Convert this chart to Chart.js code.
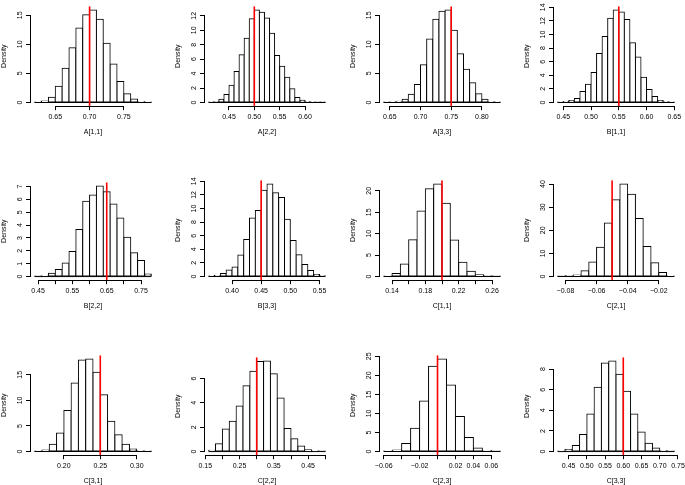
<!DOCTYPE html>
<html>
<head>
<meta charset="utf-8">
<script src="https://cdn.jsdelivr.net/npm/chart.js@4"></script>
<style>
  html, body { margin: 0; padding: 0; background: #fff; }
  #grid { position: relative; width: 685px; height: 485px; overflow: hidden; }
  #grid canvas { position: absolute; }
</style>
</head>
<body>
<div id="grid"></div>
<script>
// posterior histograms (density) with the true value as a red line
const panelNames = ['A[1,1]', 'A[2,2]', 'A[3,3]', 'B[1,1]', 'B[2,2]', 'B[3,3]',
                    'C[1,1]', 'C[2,1]', 'C[3,1]', 'C[2,2]', 'C[2,3]', 'C[3,3]'];
const trueValues = [0.70, 0.50, 0.75, 0.55, 0.65, 0.45, 0.20, -0.05, 0.25, 0.30, 0.00, 0.60];
const binStarts  = [0.62, 0.41, 0.64, 0.44, 0.44, 0.36, 0.13, -0.085, 0.16, 0.16, -0.06, 0.42];
const binWidths  = [0.01, 0.01, 0.01, 0.01, 0.02, 0.01, 0.01, 0.005, 0.01, 0.02, 0.01, 0.02];

// densities per bin
const densA11 = [0.05, 0.25, 0.9, 2.8, 5.9, 9.4, 12.8, 15.1, 15.9, 14.3, 10.2, 6.6, 3.6, 1.5, 0.6, 0.15, 0.05];
const densA22 = [0.05, 0.1, 0.45, 1.1, 2.4, 4.3, 6.6, 8.9, 11.6, 12.8, 12.5, 11.7, 9.6, 6.5, 5.0, 3.5, 1.9, 0.7, 0.3, 0.15, 0.05, 0.03, 0.02];
const densA33 = [0.05, 0.1, 0.2, 0.55, 1.4, 3.1, 6.5, 10.9, 14.3, 15.7, 15.9, 12.4, 8.4, 5.7, 3.4, 1.5, 0.55, 0.15, 0.05];
const densB11 = [0.05, 0.15, 0.3, 0.6, 1.6, 2.7, 4.4, 7.2, 9.7, 12.4, 13.6, 13.3, 12.2, 8.8, 6.7, 3.7, 1.9, 0.9, 0.3, 0.1, 0.05];
const densB22 = [0.02, 0.05, 0.25, 0.55, 1.05, 1.95, 3.65, 5.85, 6.35, 7.05, 6.6, 5.65, 4.55, 3.05, 1.85, 1.25, 0.2];
const densB33 = [0.05, 0.15, 0.45, 0.95, 1.4, 3.15, 5.45, 8.6, 9.7, 12.7, 13.6, 12.3, 11.6, 8.4, 5.3, 3.2, 1.75, 0.9, 0.3, 0.1];
const densC11 = [0.1, 0.7, 2.9, 8.6, 15.3, 20.5, 21.6, 17.1, 8.5, 3.3, 1.2, 0.4, 0.15, 0.05];
const densC21 = [0.1, 0.3, 0.6, 2.5, 6.3, 12.6, 23.1, 33.2, 40.0, 35.6, 25.1, 13.0, 5.9, 1.7, 0.2];
const densC31 = [0.05, 0.3, 1.4, 3.6, 8.0, 13.4, 17.9, 18.1, 15.5, 11.1, 5.9, 3.3, 1.4, 0.5, 0.15, 0.05];
const densC22 = [0.1, 0.65, 1.85, 2.5, 3.75, 5.4, 6.6, 7.4, 7.45, 6.4, 4.4, 1.9, 1.05, 0.45, 0.15, 0.05, 0.02];
const densC23 = [0.1, 0.4, 2.1, 6.1, 13.3, 22.4, 24.3, 17.5, 9.2, 3.7, 0.95, 0.25, 0.05];
const densC33 = [0.05, 0.2, 0.6, 1.65, 3.65, 6.25, 8.6, 8.8, 7.5, 5.85, 3.65, 1.9, 0.8, 0.35, 0.1, 0.03];
const densities = [densA11, densA22, densA33, densB11, densB22, densB33,
                   densC11, densC21, densC31, densC22, densC23, densC33];

// x axis ticks and their labels ('' = tick without label, as R drops overlapping ones)
const xTicks = [
  [0.65, 0.70, 0.75],
  [0.45, 0.50, 0.55, 0.60],
  [0.65, 0.70, 0.75, 0.80],
  [0.45, 0.50, 0.55, 0.60, 0.65],
  [0.45, 0.50, 0.55, 0.60, 0.65, 0.70, 0.75],
  [0.40, 0.45, 0.50, 0.55],
  [0.14, 0.16, 0.18, 0.20, 0.22, 0.24, 0.26],
  [-0.08, -0.06, -0.04, -0.02],
  [0.20, 0.25, 0.30],
  [0.15, 0.20, 0.25, 0.30, 0.35, 0.40, 0.45, 0.50],
  [-0.06, -0.04, -0.02, 0.00, 0.02, 0.04, 0.06],
  [0.45, 0.50, 0.55, 0.60, 0.65, 0.70, 0.75]
];
const xLabels = [
  ['0.65', '0.70', '0.75'],
  ['0.45', '0.50', '0.55', '0.60'],
  ['0.65', '0.70', '0.75', '0.80'],
  ['0.45', '0.50', '0.55', '0.60', '0.65'],
  ['0.45', '', '0.55', '', '0.65', '', '0.75'],
  ['0.40', '0.45', '0.50', '0.55'],
  ['0.14', '', '0.18', '', '0.22', '', '0.26'],
  ['\u22120.08', '\u22120.06', '\u22120.04', '\u22120.02'],
  ['0.20', '0.25', '0.30'],
  ['0.15', '', '0.25', '', '0.35', '', '0.45', ''],
  ['\u22120.06', '', '\u22120.02', '', '0.02', '0.04', '0.06'],
  ['0.45', '0.50', '0.55', '0.60', '0.65', '0.70', '0.75']
];
const yTicks = [
  [0, 5, 10, 15],
  [0, 2, 4, 6, 8, 10, 12],
  [0, 5, 10, 15],
  [0, 2, 4, 6, 8, 10, 12, 14],
  [0, 1, 2, 3, 4, 5, 6, 7],
  [0, 2, 4, 6, 8, 10, 12, 14],
  [0, 5, 10, 15, 20],
  [0, 10, 20, 30, 40],
  [0, 5, 10, 15],
  [0, 2, 4, 6],
  [0, 5, 10, 15, 20, 25],
  [0, 2, 4, 6, 8]
];

const FONT = { family: '"Liberation Sans", Arial, sans-serif', size: 7 };
const STEP = 174.5;   // panel pitch

Chart.defaults.font.family = FONT.family;
Chart.defaults.font.size = FONT.size;
Chart.defaults.color = '#000';

// text width helper, to centre the rotated y labels 10px left of the axis
const measureCtx = document.createElement('canvas').getContext('2d');
measureCtx.font = FONT.size + 'px ' + FONT.family;
function yLabelPad(labels) {
  const w = Math.max(...labels.map(s => measureCtx.measureText(s).width));
  return Math.max(0, 6 - w / 2);
}

// R style axes: line only between first and last tick, plus the histogram baseline
const rAxes = {
  id: 'rAxes',
  afterDatasetDraw(chart, args, opts) {
    if (args.index !== 0) return;
    const { ctx, scales: { x, y } } = chart;
    const by = y.getPixelForValue(0);
    ctx.save();
    ctx.strokeStyle = '#000';
    ctx.lineWidth = 1;
    ctx.beginPath();
    ctx.moveTo(x.getPixelForValue(opts.from), by);
    ctx.lineTo(x.getPixelForValue(opts.to), by);
    ctx.stroke();
    ctx.restore();
  },
  afterDraw(chart) {
    const { ctx, chartArea, scales: { x, y } } = chart;
    const al = p => Math.round(p - 0.5) + 0.5;
    ctx.save();
    ctx.strokeStyle = '#000';
    ctx.lineWidth = 1;
    ctx.beginPath();
    const xt = x.ticks, yt = y.ticks;
    const ax = al(chartArea.bottom);
    ctx.moveTo(al(x.getPixelForValue(xt[0].value)) - 0.5, ax);
    ctx.lineTo(al(x.getPixelForValue(xt[xt.length - 1].value)) + 0.5, ax);
    const ay = al(chartArea.left);
    ctx.moveTo(ay, al(y.getPixelForValue(yt[0].value)) + 0.5);
    ctx.lineTo(ay, al(y.getPixelForValue(yt[yt.length - 1].value)) - 0.5);
    ctx.stroke();
    ctx.restore();
  }
};

function drawPanel(i) {
  const dens = densities[i];
  const start = binStarts[i];
  const w = binWidths[i];
  const end = start + dens.length * w;
  const xExt = (end - start) * 0.04;
  const top = Math.max(...dens);

  const canvas = document.createElement('canvas');
  canvas.width = 175;
  canvas.height = 175;
  canvas.style.left = Math.floor((i % 4) * STEP) + 'px';
  canvas.style.top = Math.floor(Math.floor(i / 4) * STEP) + 'px';
  document.getElementById('grid').appendChild(canvas);

  const bars = dens.map((d, k) => ({ x: start + (k + 0.5) * w, y: d }));
  const yLab = yTicks[i].map(String);

  new Chart(canvas, {
    type: 'bar',
    data: {
      datasets: [{
        data: bars,
        backgroundColor: '#fff',
        borderColor: '#000',
        borderWidth: 1,
        borderSkipped: false,
        inflateAmount: 0.5,
        barPercentage: 1,
        categoryPercentage: 1,
        order: 1
      }, {
        type: 'line',
        data: [{ x: trueValues[i], y: -0.04 * top }, { x: trueValues[i], y: 1.04 * top }],
        borderColor: '#ff0000',
        borderWidth: 1.6,
        pointRadius: 0,
        fill: false,
        order: 0
      }]
    },
    options: {
      responsive: false,
      animation: false,
      devicePixelRatio: 1,
      events: [],
      layout: { padding: { left: 0, top: 1.6, right: 19, bottom: 38.8 } },
      plugins: {
        legend: { display: false },
        tooltip: { enabled: false },
        rAxes: { from: start, to: end }
      },
      scales: {
        x: {
          type: 'linear',
          offset: false,
          min: start - xExt,
          max: end + xExt,
          bounds: 'data',
          afterBuildTicks: s => { s.ticks = xTicks[i].map(v => ({ value: v })); },
          afterFit: s => { s.height = 30; },
          grid: { display: true, offset: false, drawOnChartArea: false, drawTicks: true, tickLength: 4, color: '#000', lineWidth: 1 },
          border: { display: false },
          ticks: {
            autoSkip: false, maxRotation: 0, minRotation: 0, padding: 2.8,
            callback: (v, k) => xLabels[i][k]
          },
          title: { display: true, text: panelNames[i], padding: { top: 0, bottom: 0 } }
        },
        y: {
          type: 'linear',
          min: -0.04 * top,
          max: 1.04 * top,
          bounds: 'data',
          afterBuildTicks: s => { s.ticks = yTicks[i].map(v => ({ value: v })); },
          afterFit: s => { s.width = 30; },
          grid: { display: true, drawOnChartArea: false, drawTicks: true, tickLength: 4, color: '#000', lineWidth: 1 },
          border: { display: false },
          ticks: {
            autoSkip: false, minRotation: 90, maxRotation: 90, crossAlign: 'center',
            padding: yLabelPad(yLab),
            callback: (v, k) => yLab[k]
          },
          title: { display: true, text: 'Density', padding: { top: 0, bottom: 0 } }
        }
      }
    },
    plugins: [rAxes]
  });
}

for (let i = 0; i < panelNames.length; i++) drawPanel(i);
</script>
</body>
</html>
